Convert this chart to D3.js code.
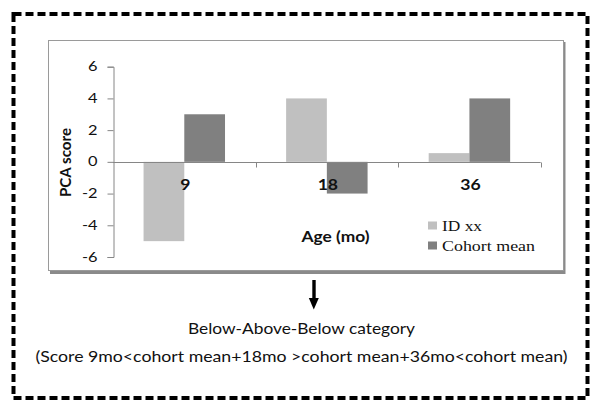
<!DOCTYPE html>
<html><head><meta charset="utf-8">
<script src="https://cdn.jsdelivr.net/npm/d3@7"></script>
<style>
html,body{margin:0;padding:0;background:#fff;}
svg{display:block;}
</style></head>
<body>
<svg id="c" width="604" height="412"></svg>
<script>
// ---- data ----
const categories = ["9", "18", "36"];
const seriesNames = ["ID xx", "Cohort mean"];
const idValues = [-5, 4, 0.55];
const cohortValues = [3, -2, 4];
const yTicks = [-6, -4, -2, 0, 2, 4, 6];
const yTitle = "PCA score";
const xTitle = "Age (mo)";
const captionLines = ["Below-Above-Below category",
  "(Score 9mo<cohort mean+18mo >cohort mean+36mo<cohort mean)"];

const colors = ["#c0c0c0", "#808080"];
const sans = "Lato, 'Open Sans', sans-serif";
const serif = "'Liberation Serif', 'DejaVu Serif', serif";

const svg = d3.select("#c");

function stretch(sel, f) {
  sel.each(function () {
    const w = this.getComputedTextLength();
    d3.select(this).attr("textLength", w * f).attr("lengthAdjust", "spacingAndGlyphs");
  });
}

// outer dashed frame
svg.append("rect").attr("x", 13.5).attr("y", 14).attr("width", 574).attr("height", 384)
  .attr("fill", "none").attr("stroke", "#000").attr("stroke-width", 4)
  .attr("stroke-dasharray", "8,4");

// chart box with shadow
svg.append("line").attr("x1", 50).attr("x2", 565).attr("y1", 272.5).attr("y2", 272.5)
  .attr("stroke", "#8a8a8a").attr("stroke-width", 3);
svg.append("line").attr("x1", 564.5).attr("x2", 564.5).attr("y1", 42).attr("y2", 274)
  .attr("stroke", "#8a8a8a").attr("stroke-width", 2);
svg.append("rect").attr("x", 48.5).attr("y", 40.5).attr("width", 515).attr("height", 230)
  .attr("fill", "#fff").attr("stroke", "#9a9a9a").attr("stroke-width", 1);

// scales
const y = d3.scaleLinear().domain([-6, 6]).range([257, 66.7]);
const x = d3.scaleBand().domain(categories).range([113, 540.7]).padding(0);
const bw = x.bandwidth();
const barW = bw / 3.5;          // Excel gap width 150%
const sub = d3.scaleBand().domain(seriesNames).range([0.75 * barW, 2.75 * barW]).padding(0);

// y axis
const yAxis = svg.append("g").attr("transform", "translate(113.5,0)")
  .call(d3.axisLeft(y).tickValues(yTicks).tickSize(6).tickPadding(10).tickFormat(d => String(d)));
yAxis.select(".domain").attr("stroke", "#868686");
yAxis.selectAll(".tick line").attr("stroke", "#868686");
yAxis.selectAll(".tick text").attr("font-family", sans).attr("font-size", 12.8).attr("fill", "#111");
stretch(yAxis.selectAll(".tick text"), 1.28);

// bars
const data = categories.map((c, i) => ({ c, vals: [idValues[i], cohortValues[i]] }));
data.forEach(d => {
  d.vals.forEach((v, j) => {
    svg.append("rect")
      .attr("x", x(d.c) + sub(seriesNames[j]))
      .attr("width", sub.bandwidth())
      .attr("y", Math.min(y(v), y(0)))
      .attr("height", Math.abs(y(v) - y(0)))
      .attr("fill", colors[j]);
  });
});

// x axis at zero
const y0 = Math.round(y(0)) + 0.5;
svg.append("line").attr("x1", 113).attr("x2", x.range()[1]).attr("y1", y0).attr("y2", y0)
  .attr("stroke", "#868686");
categories.forEach(c => {
  const xt = Math.round(x(c) + bw) + 0.5;
  svg.append("line").attr("x1", xt).attr("x2", xt).attr("y1", y0).attr("y2", y0 + 5)
    .attr("stroke", "#868686");
});
// category labels
const catText = svg.selectAll("text.cat").data(categories).enter().append("text")
  .attr("class", "cat")
  .attr("x", c => x(c) + bw / 2 + 1).attr("y", 190)
  .attr("text-anchor", "middle").attr("font-family", sans).attr("font-weight", "bold")
  .attr("font-size", 15.3).attr("fill", "#111").text(c => c);
stretch(catText, 1.15);

// axis titles
svg.append("text").attr("transform", "translate(70.8,162.5) rotate(-90)")
  .attr("text-anchor", "middle").attr("font-family", sans).attr("font-weight", "bold")
  .attr("font-size", 15).attr("textLength", 69).attr("lengthAdjust", "spacingAndGlyphs")
  .attr("fill", "#111").text(yTitle);
svg.append("text").attr("x", 301.5).attr("y", 242)
  .attr("font-family", sans).attr("font-weight", "bold").attr("font-size", 16)
  .attr("textLength", 68).attr("lengthAdjust", "spacingAndGlyphs")
  .attr("fill", "#111").text(xTitle);

// legend
const legLens = [40, 93];
seriesNames.forEach((s, i) => {
  svg.append("rect").attr("x", 428).attr("y", 221.5 + i * 20).attr("width", 9).attr("height", 8)
    .attr("fill", colors[i]);
  svg.append("text").attr("x", 442).attr("y", 230.7 + i * 20)
    .attr("font-family", serif).attr("font-size", 14.2)
    .attr("textLength", legLens[i]).attr("lengthAdjust", "spacingAndGlyphs")
    .attr("fill", "#111").text(s);
});

// arrow
svg.append("rect").attr("x", 312.3).attr("y", 280).attr("width", 3.4).attr("height", 19)
  .attr("fill", "#000");
svg.append("path").attr("d", "M308.8,298 L318.8,298 L313.8,309.5 Z").attr("fill", "#000");

// caption
const capLens = [227, 532];
const capY = [334, 361.7];
captionLines.forEach((t, i) => {
  svg.append("text").attr("x", 301.5).attr("y", capY[i]).attr("text-anchor", "middle")
    .attr("font-family", sans).attr("font-size", 15.3)
    .attr("textLength", capLens[i]).attr("lengthAdjust", "spacingAndGlyphs")
    .attr("fill", "#111").text(t);
});
</script>
</body></html>
